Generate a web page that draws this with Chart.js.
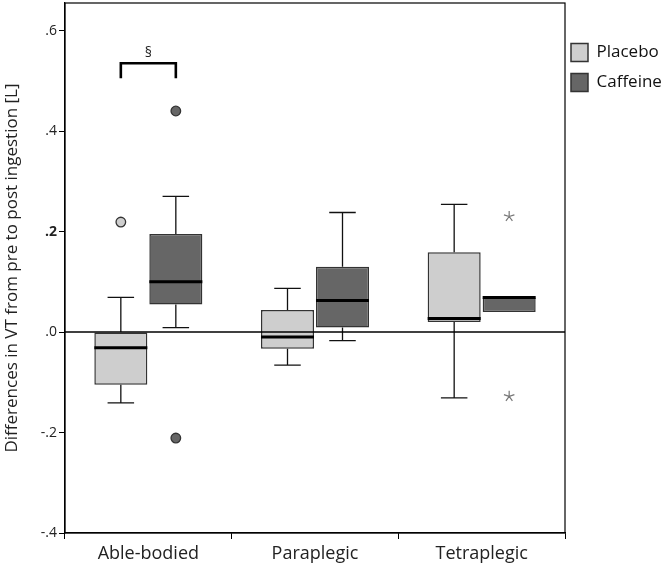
<!DOCTYPE html>
<html>
<head>
<meta charset="utf-8">
<script src="https://cdn.jsdelivr.net/npm/chart.js@4.4.0/dist/chart.umd.min.js"></script>
<style>
html,body{margin:0;padding:0;background:#fff}
#wrap{width:662px;height:569px;position:relative}
</style>
</head>
<body>
<div id="wrap"><canvas id="c"></canvas></div>
<script>
const groups = ['Able-bodied', 'Paraplegic', 'Tetraplegic'];
const seriesNames = ['Placebo', 'Caffeine'];
// [lower whisker, q1, median, q3, upper whisker]
const placeboBox = [
  [-0.141, -0.105, -0.031, 0.000, 0.069],
  [-0.066, -0.033, -0.010, 0.044, 0.087],
  [-0.131, 0.020, 0.027, 0.159, 0.254]
];
const caffeineBox = [
  [0.009, 0.055, 0.100, 0.195, 0.270],
  [-0.017, 0.009, 0.063, 0.130, 0.238],
  [0.040, 0.040, 0.069, 0.069, 0.069]
];
// circles = outliers, stars = extremes
const placeboOutliers = [[0.219], [], []];
const caffeineOutliers = [[0.440, -0.211], [], []];
const placeboExtremes = [[], [], []];
const caffeineExtremes = [[], [], [0.230, -0.128]];
const yTicks = [-0.4, -0.2, 0, 0.2, 0.4, 0.6];
const yTickLabels = ['-.4', '-.2', '.0', '.2', '.4', '.6'];
const sigBracket = [0.535, 0.505]; // bar height, foot end
const sigLabel = '§';

const FONT = "'Open Sans', 'Noto Sans', sans-serif";
const fills = ['#cecece', '#666666'];
const boxes = [placeboBox, caffeineBox];
const outliers = [placeboOutliers, caffeineOutliers];
const extremes = [placeboExtremes, caffeineExtremes];

// nudge the legend items a little closer to the plot frame
const legendShift = {
  id: 'legendShift',
  afterLayout(chart) {
    const lg = chart.legend;
    if (lg) { lg.left -= 6; }
  }
};

const boxPlot = {
  id: 'boxPlot',
  afterDatasetsDraw(chart) {
    const ctx = chart.ctx;
    const y = chart.scales.y;
    const area = chart.chartArea;
    ctx.save();
    boxes.forEach((set, i) => {
      const meta = chart.getDatasetMeta(i);
      set.forEach((b, j) => {
        const bar = meta.data[j];
        const cx = bar.x, half = bar.width / 2, cap = bar.width / 4;
        ctx.strokeStyle = '#111';
        ctx.lineWidth = 1.3;
        ctx.beginPath();
        if (b[4] > b[3]) {
          ctx.moveTo(cx, y.getPixelForValue(b[3])); ctx.lineTo(cx, y.getPixelForValue(b[4]));
          ctx.moveTo(cx - cap, y.getPixelForValue(b[4])); ctx.lineTo(cx + cap, y.getPixelForValue(b[4]));
        }
        if (b[0] < b[1]) {
          ctx.moveTo(cx, y.getPixelForValue(b[1])); ctx.lineTo(cx, y.getPixelForValue(b[0]));
          ctx.moveTo(cx - cap, y.getPixelForValue(b[0])); ctx.lineTo(cx + cap, y.getPixelForValue(b[0]));
        }
        ctx.stroke();
        ctx.lineWidth = 3;
        ctx.strokeStyle = '#000';
        ctx.beginPath();
        const my = y.getPixelForValue(b[2]);
        ctx.moveTo(cx - half, my); ctx.lineTo(cx + half, my);
        ctx.stroke();
      });
      outliers[i].forEach((vals, j) => {
        const cx = meta.data[j].x;
        vals.forEach(v => {
          ctx.beginPath();
          ctx.arc(cx, y.getPixelForValue(v), 4.8, 0, Math.PI * 2);
          ctx.fillStyle = fills[i];
          ctx.fill();
          ctx.lineWidth = 1.3;
          ctx.strokeStyle = '#333';
          ctx.stroke();
        });
      });
      extremes[i].forEach((vals, j) => {
        const cx = meta.data[j].x;
        vals.forEach(v => {
          const cy = y.getPixelForValue(v);
          ctx.strokeStyle = '#777';
          ctx.lineWidth = 1.2;
          ctx.beginPath();
          for (let k = 0; k < 5; k++) {
            const a = -Math.PI / 2 + k * 2 * Math.PI / 5;
            ctx.moveTo(cx, cy);
            ctx.lineTo(cx + Math.cos(a) * 5.5, cy + Math.sin(a) * 5.5);
          }
          ctx.stroke();
        });
      });
    });
    // zero line
    const zy = y.getPixelForValue(0);
    ctx.strokeStyle = '#000';
    ctx.lineWidth = 1.5;
    ctx.beginPath();
    ctx.moveTo(area.left, zy); ctx.lineTo(area.right, zy);
    ctx.stroke();
    // frame
    ctx.lineWidth = 1.2;
    ctx.strokeRect(area.left, area.top, area.right - area.left, area.bottom - area.top);
    // significance bracket
    const x0 = chart.getDatasetMeta(0).data[0].x;
    const x1 = chart.getDatasetMeta(1).data[0].x;
    const by = y.getPixelForValue(sigBracket[0]);
    const fy = y.getPixelForValue(sigBracket[1]);
    ctx.lineWidth = 2.6;
    ctx.beginPath();
    ctx.moveTo(x0, fy); ctx.lineTo(x0, by); ctx.lineTo(x1, by); ctx.lineTo(x1, fy);
    ctx.stroke();
    ctx.fillStyle = '#222';
    ctx.font = '14px ' + FONT;
    ctx.textAlign = 'center';
    ctx.textBaseline = 'bottom';
    ctx.fillText(sigLabel, (x0 + x1) / 2, by - 3);
    ctx.restore();
  }
};

new Chart(document.getElementById('c'), {
  type: 'bar',
  data: {
    labels: groups,
    datasets: seriesNames.map((name, i) => ({
      label: name,
      data: boxes[i].map(b => [b[1], b[3]]),
      backgroundColor: fills[i],
      borderColor: '#333',
      borderWidth: 1.5,
      borderSkipped: false,
      categoryPercentage: 0.66,
      barPercentage: 0.964
    }))
  },
  options: {
    responsive: true,
    maintainAspectRatio: false,
    animation: false,
    layout: { padding: { top: 3, right: 0, left: 0, bottom: 0 } },
    plugins: {
      tooltip: { enabled: false },
      legend: {
        position: 'right',
        align: 'start',
        maxWidth: 97,
        title: { display: true, text: '', padding: { top: 14, bottom: 0 }, font: { size: 12 } },
        labels: {
          boxWidth: 17,
          boxHeight: 18,
          padding: 12,
          color: '#111',
          font: { family: FONT, size: 17 }
        }
      }
    },
    scales: {
      x: {
        grid: { drawOnChartArea: false, drawTicks: true, tickLength: 6, color: '#000' },
        border: { display: true, color: '#000', width: 1.2 },
        ticks: { color: '#222', font: { family: FONT, size: 18 }, padding: 4 },
        afterFit(scale) { scale.height = 36; scale.paddingLeft = 0; scale.paddingRight = 0; }
      },
      y: {
        min: -0.4,
        max: 0.655,
        afterBuildTicks(scale) { scale.ticks = yTicks.map(v => ({ value: v })); },
        grid: { drawOnChartArea: false, drawTicks: true, tickLength: 6, color: '#000' },
        border: { display: true, color: '#000', width: 1.2 },
        ticks: {
          color: '#222',
          padding: 2,
          font: ctx => ({ family: FONT, size: 14, weight: yTickLabels[ctx.index] === '.2' ? 'bold' : 'normal' }),
          callback: (v, i) => yTickLabels[i]
        },
        title: {
          display: true,
          text: 'Differences in VT from pre to post ingestion [L]',
          color: '#222',
          font: { family: FONT, size: 17 },
          padding: { top: 2, bottom: 0 }
        },
        afterFit(scale) { scale.width = 65; scale.paddingTop = 0; scale.paddingBottom = 0; }
      }
    }
  },
  plugins: [boxPlot, legendShift]
});
</script>
</body>
</html>
